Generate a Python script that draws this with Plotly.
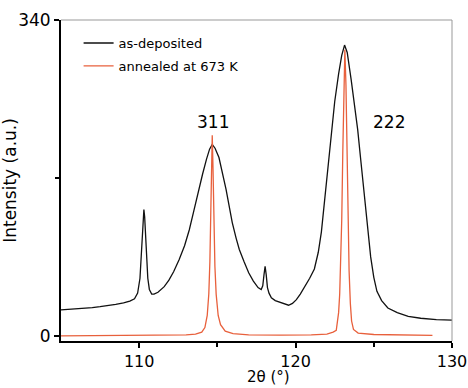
import plotly.graph_objects as go

# as-deposited (black) : 2theta, intensity
dep_x = [105.0, 105.5, 106.0, 106.5, 107.0, 107.5, 108.0, 108.5, 109.0, 109.4, 109.7, 109.9,
         110.05, 110.15, 110.25, 110.3, 110.35, 110.45, 110.55, 110.65, 110.8, 110.95, 111.2,
         111.6, 111.9, 112.2, 112.55, 112.9, 113.2, 113.5, 113.8, 114.05, 114.3, 114.5, 114.67,
         114.85, 115.1, 115.3, 115.55, 115.75, 115.95, 116.2, 116.4, 116.7, 117.0, 117.3, 117.6,
         117.8, 117.9, 117.98, 118.05, 118.12, 118.2, 118.3, 118.45, 118.7, 119.0, 119.3, 119.55,
         119.8, 120.05, 120.3, 120.6, 120.9, 121.2, 121.45, 121.65, 121.85, 122.05, 122.3, 122.5,
         122.75, 122.95, 123.13, 123.3, 123.55, 123.8, 123.97, 124.15, 124.3, 124.45, 124.6, 124.8,
         125.0, 125.2, 125.5, 125.9, 126.5, 127.2, 128.0, 129.0, 130.0]
dep_y = [28, 28.5, 29, 30, 30.5, 31.5, 32.5, 34, 35.5, 37.5, 40, 46,
         62, 90, 128, 136, 128, 90, 62, 50, 45, 45, 47,
         53, 60, 69, 82, 97, 114, 135, 157, 174, 190, 201, 206,
         202, 192, 178, 158, 140, 122, 105, 93, 80, 68, 59, 52,
         50, 54, 66, 75, 66, 52, 46, 41, 38, 36, 34, 33,
         35, 39, 45, 53, 62, 72, 90, 112, 145, 178, 222, 252,
         282, 302, 313, 305, 276, 246, 222, 192, 168, 140, 114, 85,
         63, 48, 38, 30, 25, 21, 19, 17.5, 17]

# annealed at 673 K (red)
ann_x = [105.0, 108.0, 110.0, 112.0, 113.0, 113.6, 114.0, 114.2, 114.35, 114.45, 114.52, 114.58,
         114.63, 114.67, 114.72, 114.77, 114.84, 114.92, 115.05, 115.2, 115.5, 116.0, 117.0, 119.0,
         121.0, 122.0, 122.4, 122.6, 122.75, 122.82, 122.9, 122.95, 123.02, 123.08, 123.15, 123.22,
         123.28, 123.35, 123.42, 123.5, 123.58, 123.7, 124.0, 125.0, 127.0, 128.75]
ann_y = [0, 0.3, 0.5, 0.8, 1.2, 2, 4, 9, 22, 45, 80, 135,
         190, 216, 180, 125, 75, 45, 22, 12, 5, 2.5, 1.2, 0.8,
         1, 2, 4, 6, 25, 45, 90, 125, 200, 270, 308, 270,
         200, 120, 70, 35, 16, 7, 3, 1.5, 0.8, 0.5]

peak_labels = ["311", "222"]
peak_label_x = [114.7, 126.0]
peak_label_y = [230, 230]

FONT = "DejaVu Sans, Arial, sans-serif"

fig = go.Figure()
fig.add_trace(go.Scatter(x=dep_x, y=dep_y, mode="lines", name="as-deposited", legendgroup="a",
                         line=dict(color="#111111", width=1.3)))
fig.add_trace(go.Scatter(x=ann_x, y=ann_y, mode="lines", name="annealed at 673 K", legendgroup="b",
                         line=dict(color="#E8603C", width=1.3)))

for t, x, y in zip(peak_labels, peak_label_x, peak_label_y):
    fig.add_annotation(x=x, y=y, text=t, showarrow=False,
                       font=dict(size=17, color="black", family=FONT))

# x-axis title (placed slightly right of centre, as in the reference)
fig.add_annotation(x=0.53, y=0, xref="paper", yref="paper", xanchor="center", yanchor="top",
                   yshift=-25, text="2θ (°)", showarrow=False,
                   font=dict(size=15, color="black", family=FONT))

# grey top/right frame
fig.add_shape(type="line", xref="paper", yref="paper", x0=0, x1=1, y0=1, y1=1,
              line=dict(color="#999999", width=1))
fig.add_shape(type="line", xref="paper", yref="paper", x0=1, x1=1, y0=0, y1=1,
              line=dict(color="#999999", width=1))

fig.update_layout(
    width=468, height=388,
    margin=dict(l=61, r=16, t=20, b=47),
    paper_bgcolor="white", plot_bgcolor="white",
    font=dict(family=FONT, color="black"),
    showlegend=True,
    legend=dict(x=0.045, y=0.975, xanchor="left", yanchor="top",
                bgcolor="rgba(0,0,0,0)", font=dict(size=13), tracegroupgap=3),
)
fig.update_xaxes(range=[105, 130.0001], tickvals=[110, 120, 130], ticks="outside", ticklen=5,
                 tickwidth=1.5, tickcolor="black", showline=True, linecolor="black",
                 linewidth=2, showgrid=False, zeroline=False, automargin=False,
                 ticklabeloverflow="allow",
                 tickfont=dict(size=16),
                 minor=dict(tickvals=[115, 125], ticks="outside", ticklen=4, tickcolor="black"))
fig.update_yaxes(range=[-5.5, 340], tickvals=[0, 340], ticks="outside", ticklen=5,
                 tickwidth=1.5, tickcolor="black", showline=True, linecolor="black",
                 linewidth=2, showgrid=False, zeroline=False, automargin=False,
                 tickfont=dict(size=17), title=dict(text="Intensity (a.u.)", font=dict(size=17), standoff=0),
                 minor=dict(tickvals=[170], ticks="outside", ticklen=4, tickcolor="black"))

fig.write_html("out.html")
